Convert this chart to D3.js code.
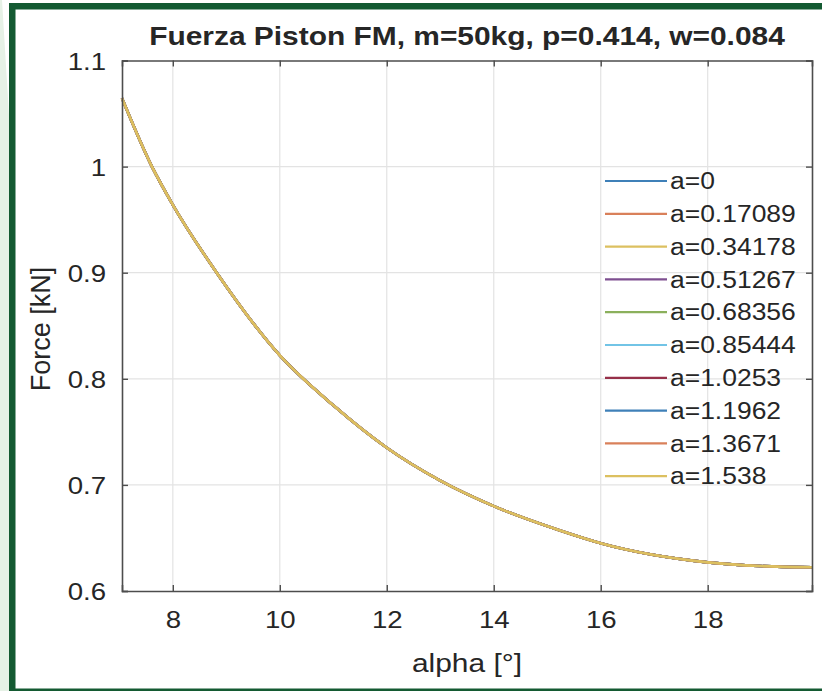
<!DOCTYPE html>
<html>
<head>
<meta charset="utf-8">
<script src="https://cdn.jsdelivr.net/npm/d3@7"></script>
<style>
  body { margin: 0; background: #fff; }
  text { font-family: "Liberation Sans", Arial, sans-serif; fill: #262626; }
</style>
</head>
<body>
<div id="chart"></div>
<script>
// data
let alphaDeg = [7.05, 7.61, 8.0, 8.82, 10.0, 11.0, 12.0, 13.0, 14.0, 15.24, 16.0, 18.0, 18.98, 19.95];
let forceKN = [1.0645, 1.000, 0.964, 0.900, 0.822, 0.775, 0.735, 0.704, 0.680, 0.657, 0.645, 0.627, 0.6235, 0.6224];
let aValues = [0, 0.17089, 0.34178, 0.51267, 0.68356, 0.85444, 1.0253, 1.1962, 1.3671, 1.538];
let xTicks = [8, 10, 12, 14, 16, 18];
let yTicks = [0.6, 0.7, 0.8, 0.9, 1, 1.1];
let colors = ["#3f80b8", "#d9805a", "#dcc060", "#7e4f90", "#8bb05c", "#72c4e6", "#963049", "#3f80b8", "#d9805a", "#dcc060"];

let svgWidth = 822;
let svgHeight = 691;
let margin = { top: 60.5, right: 10, bottom: 100, left: 122 };
let width = svgWidth - margin.left - margin.right;
let height = svgHeight - margin.top - margin.bottom;

let svg = d3.select("#chart")
    .append("svg")
    .attr("width", svgWidth)
    .attr("height", svgHeight);

// page frame
svg.append("rect").attr("x", 0).attr("y", 0).attr("width", 9).attr("height", svgHeight).attr("fill", "#e6f1e6");
svg.append("polygon").attr("points", "2,0 9,0 9,115").attr("fill", "#fff");
svg.append("rect").attr("x", 9).attr("y", 3).attr("width", svgWidth - 9).attr("height", 6.5).attr("fill", "#145a32");
svg.append("rect").attr("x", 9).attr("y", 3).attr("width", 6.5).attr("height", svgHeight - 3).attr("fill", "#145a32");
svg.append("rect").attr("x", 9).attr("y", 688.5).attr("width", svgWidth - 9).attr("height", 3).attr("fill", "#145a32");

let chartGroup = svg.append("g")
    .attr("transform", `translate(${margin.left}, ${margin.top})`);

let xScale = d3.scaleLinear().domain([7.05, 19.95]).range([0, width]);
let yScale = d3.scaleLinear().domain([0.6, 1.1]).range([height, 0]);

// grid
chartGroup.append("g")
    .selectAll("line").data(xTicks).enter().append("line")
    .attr("x1", d => xScale(d)).attr("x2", d => xScale(d))
    .attr("y1", 0).attr("y2", height)
    .attr("stroke", "#e3e3e3").attr("stroke-width", 1.2);
chartGroup.append("g")
    .selectAll("line").data(yTicks.slice(1, -1)).enter().append("line")
    .attr("x1", 0).attr("x2", width)
    .attr("y1", d => yScale(d)).attr("y2", d => yScale(d))
    .attr("stroke", "#e3e3e3").attr("stroke-width", 1.2);

// lines, all ten curves lie on top of each other
let line = d3.line()
    .x((d, i) => xScale(alphaDeg[i]))
    .y(d => yScale(d))
    .curve(d3.curveMonotoneX);

aValues.forEach((a, k) => {
    chartGroup.append("path")
        .datum(forceKN)
        .attr("d", line)
        .attr("fill", "none")
        .attr("stroke", colors[k])
        .attr("stroke-width", 2.6);
});

// axes (ticks inside, box on)
let bottomAxis = d3.axisBottom(xScale).tickValues(xTicks).tickSize(-6).tickPadding(20);
let leftAxis = d3.axisLeft(yScale).tickValues(yTicks).tickFormat(d3.format("")).tickSize(-6).tickPadding(16);
let topAxis = d3.axisTop(xScale).tickValues(xTicks).tickSize(-6).tickFormat("");
let rightAxis = d3.axisRight(yScale).tickValues(yTicks).tickSize(-6).tickFormat("");

let gx = chartGroup.append("g").attr("transform", `translate(0, ${height})`).call(bottomAxis);
let gy = chartGroup.append("g").call(leftAxis);
let gt = chartGroup.append("g").call(topAxis);
let gr = chartGroup.append("g").attr("transform", `translate(${width}, 0)`).call(rightAxis);

[gx, gy, gt, gr].forEach(g => {
    g.select(".domain").attr("stroke", "#4d4d4d").attr("stroke-width", 1.6);
    g.selectAll(".tick line").attr("stroke", "#4d4d4d").attr("stroke-width", 1.4);
    g.selectAll("text").attr("font-size", 24).attr("fill", "#3a3a3a")
        .attr("font-family", "Liberation Sans, Arial, sans-serif");
});
gy.selectAll("text").attr("dy", "0.36em");

// title and labels
svg.append("text")
    .attr("class", "stretch")
    .attr("x", 467).attr("y", 45)
    .attr("text-anchor", "middle")
    .attr("font-size", 26).attr("font-weight", "bold")
    .attr("fill", "#111")
    .text("Fuerza Piston FM, m=50kg, p=0.414, w=0.084");

svg.append("text")
    .attr("class", "stretch")
    .attr("x", 467).attr("y", 672)
    .attr("text-anchor", "middle")
    .attr("font-size", 26)
    .text("alpha [°]");

svg.append("text")
    .attr("transform", "translate(50, 329) rotate(-90)")
    .attr("text-anchor", "middle")
    .attr("font-size", 27)
    .text("Force [kN]");

// legend
let legend = svg.append("g").attr("transform", "translate(605, 181)");
let rows = legend.selectAll("g").data(aValues).enter().append("g")
    .attr("transform", (d, i) => `translate(0, ${i * 32.8})`);
rows.append("line")
    .attr("x1", 0).attr("x2", 62).attr("y1", 0).attr("y2", 0)
    .attr("stroke", (d, i) => colors[i]).attr("stroke-width", 2.2);
rows.append("text")
    .attr("class", "stretch")
    .attr("x", 65).attr("y", 0).attr("dy", "0.36em")
    .attr("font-size", 23)
    .text(d => `a=${d}`);

// the picture is a little wide: stretch text horizontally
svg.selectAll("text.stretch, .tick text").each(function () {
    let len = this.getComputedTextLength();
    if (len > 0) {
        d3.select(this).attr("textLength", len * 1.15).attr("lengthAdjust", "spacingAndGlyphs");
    }
});
</script>
</body>
</html>
